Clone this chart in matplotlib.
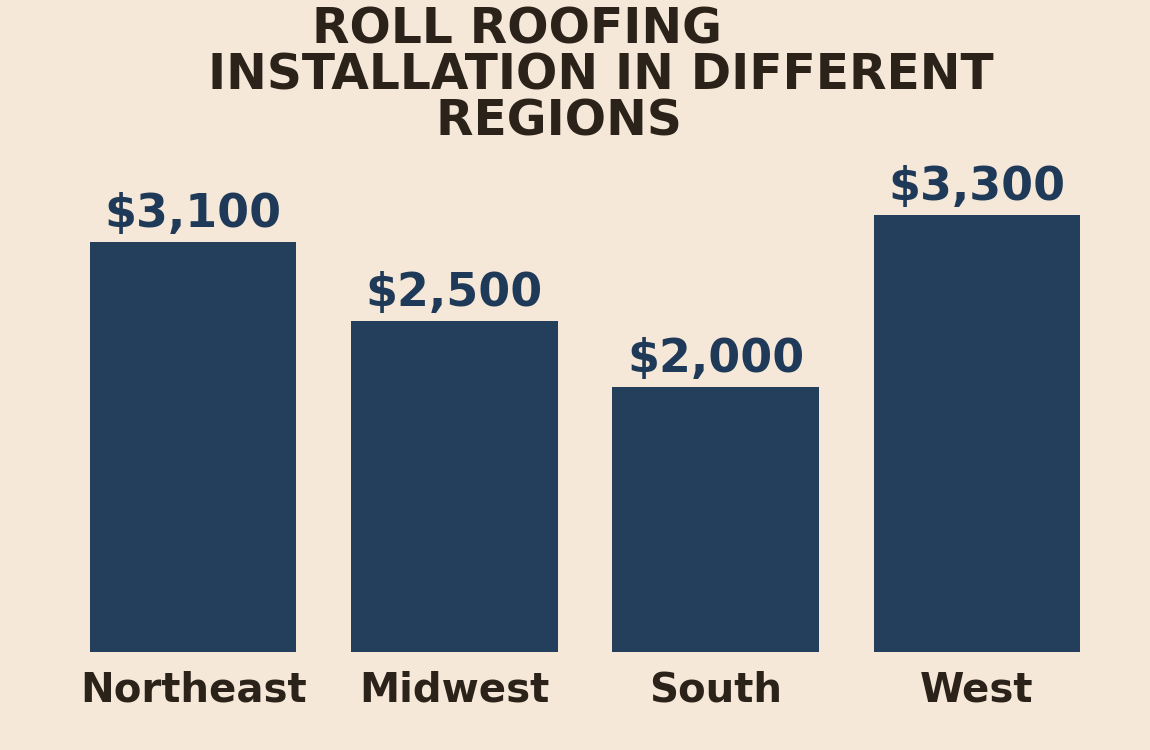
import matplotlib
matplotlib.use('Agg')
import matplotlib.pyplot as plt

# Data
regions = ['Northeast', 'Midwest', 'South', 'West']
costs = [3100, 2500, 2000, 3300]
cost_labels = ['$3,100', '$2,500', '$2,000', '$3,300']
title = 'ROLL ROOFING          \nINSTALLATION IN DIFFERENT\nREGIONS     '

bg = '#F6E8D8'
bar_color = '#243F5C'
label_color = '#1F3A58'
text_color = '#2B2219'

fig = plt.figure(figsize=(11.5, 7.5), dpi=100, facecolor=bg)
ax = fig.add_axes([0, 98 / 750, 1, 652 / 750])
ax.set_facecolor(bg)

x = list(range(len(regions)))
ax.bar(x, costs, width=0.79, color=bar_color)

for xi, val, lab in zip(x, costs, cost_labels):
    ax.annotate(lab, (xi, val), xytext=(0, 11), textcoords='offset points',
                ha='center', va='baseline', fontsize=33, fontweight='bold',
                color=label_color)

ax.set_xlim(-0.739, 3.662)
ax.set_ylim(0, 4928)
ax.axis('off')

# Category labels under the bars
for xi, name in zip(x, regions):
    ax.annotate(name, (xi, 0), xytext=(0, -36), textcoords='offset points',
                ha='center', va='baseline', fontsize=29, fontweight='bold',
                color=text_color, annotation_clip=False)

# Title (one text, lines offset with trailing spaces like the original)
fig.text(601 / 1150, 1 - 136 / 750, title, ha='center', va='baseline',
         multialignment='center', linespacing=0.95,
         fontsize=35, fontweight='bold', color=text_color)

fig.savefig('out.png', dpi=100, facecolor=bg)
